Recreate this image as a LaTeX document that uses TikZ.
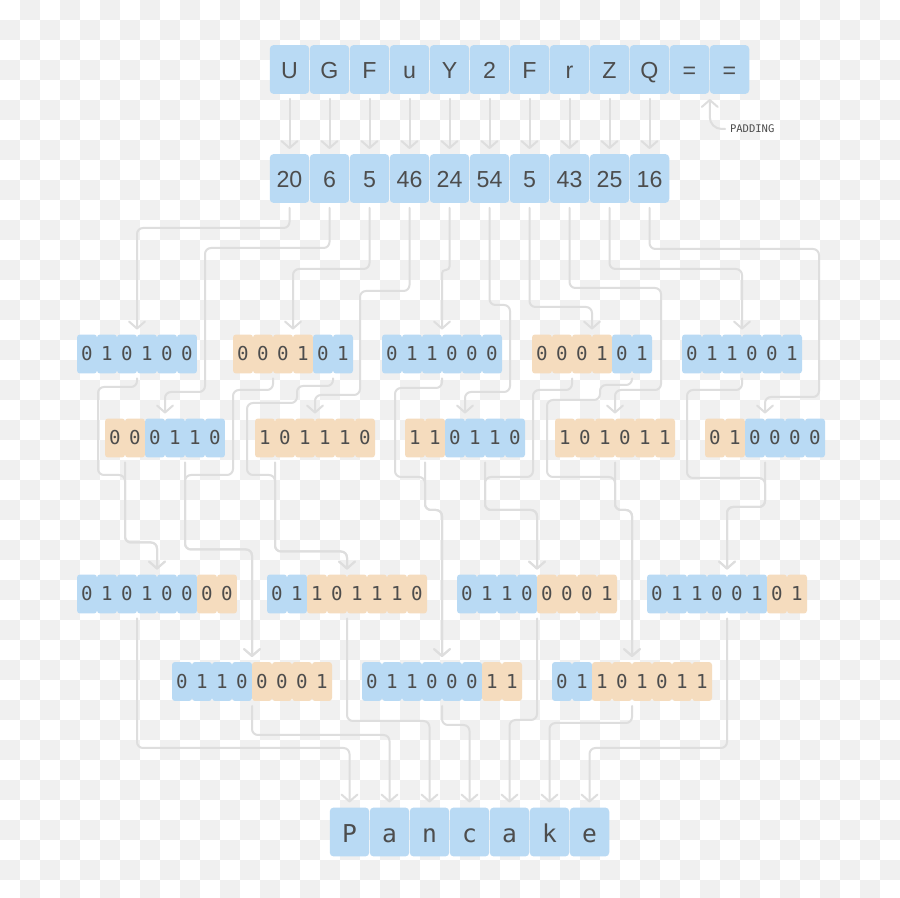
\documentclass[tikz,border=0pt]{standalone}
\usepackage{fontspec}
\usepackage{tikz}
\usetikzlibrary{arrows.meta}
\newfontfamily\labelfont{Liberation Sans}
\newfontfamily\bitfont{DejaVu Sans Mono}
\definecolor{cellblue}{HTML}{B9DAF4}
\definecolor{cellorange}{HTML}{F5DCBE}
\definecolor{linkgray}{HTML}{DEDEDE}
\definecolor{checkgray}{HTML}{F0F0F0}
\definecolor{textgray}{HTML}{4D4D4D}

\begin{document}
\begin{tikzpicture}[x=0.02cm, y=-0.02cm,
    cell/.style={rectangle, rounded corners=0.06cm, inner sep=0pt, outer xsep=0pt, outer ysep=0.1cm, text=textgray},
    bigcell/.style={cell, rounded corners=0.08cm, fill=cellblue, minimum width=0.79cm, minimum height=0.98cm, text height=0.35cm, text depth=0pt, font=\labelfont\fontsize{13.2}{15}\selectfont},
    bitcell/.style={cell, minimum width=0.4cm, minimum height=0.78cm, font=\bitfont\fontsize{10.9}{12}\selectfont},
    outcell/.style={bigcell, text height=0.44cm, font=\bitfont\fontsize{14}{16}\selectfont},
    link/.style={draw=linkgray, line width=0.04cm, line cap=round, rounded corners=0.12cm},
    arr/.style={link, -{Straight Barb[length=0.14cm, width=0.32cm, round]}}]
    \useasboundingbox (0,0) rectangle (900,898);
    % 背景棋盘格
    \fill[white] (0,0) rectangle (900,898);
    \foreach \row in {0,...,44} {
        \foreach \col in {0,...,44} {
            \ifodd\numexpr\row+\col\relax
                \fill[checkgray] (\col*20,\row*20) rectangle ++(20,20);
            \fi
        }
    }
    % Base64 字符
    \foreach \t [count=\i] in {U,G,F,u,Y,2,F,r,Z,Q,=,=} {
        \node[bigcell] (ch\i) at (249.5+40*\i, 69.5) {\t};
    }
    % 索引值
    \foreach \v [count=\i] in {20,6,5,46,24,54,5,43,25,16} {
        \node[bigcell] (val\i) at (249.5+40*\i, 178.5) {\v};
    }
    % 6 位分组,前 \k 位橙色
    \foreach \n/\lx/\cy/\k/\bits in {1/77/354/0/{0,1,0,1,0,0}, 2/105/438/2/{0,0,0,1,1,0},
        3/233/354/4/{0,0,0,1,0,1}, 4/255/438/6/{1,0,1,1,1,0}, 5/382/354/0/{0,1,1,0,0,0},
        6/405/438/2/{1,1,0,1,1,0}, 7/532/354/4/{0,0,0,1,0,1}, 8/555/438/6/{1,0,1,0,1,1},
        9/682/354/0/{0,1,1,0,0,1}, 10/705/438/2/{0,1,0,0,0,0}} {
        \foreach \bit [count=\j] in \bits {
            \ifnum\j>\k \def\fillc{cellblue}\else\def\fillc{cellorange}\fi
            \node[bitcell, fill=\fillc] (s\n-\j) at (\lx+20*\j-10, \cy) {\bit};
        }
    }
    % 8 位字节,前 \k 位蓝色
    \foreach \n/\lx/\cy/\k/\bits in {1/77/594/6/{0,1,0,1,0,0,0,0}, 2/172/681.5/4/{0,1,1,0,0,0,0,1},
        3/267/594/2/{0,1,1,0,1,1,1,0}, 4/362/681.5/6/{0,1,1,0,0,0,1,1}, 5/457/594/4/{0,1,1,0,0,0,0,1},
        6/552/681.5/2/{0,1,1,0,1,0,1,1}, 7/647/594/6/{0,1,1,0,0,1,0,1}} {
        \foreach \bit [count=\j] in \bits {
            \ifnum\j>\k \def\fillc{cellorange}\else\def\fillc{cellblue}\fi
            \node[bitcell, fill=\fillc] (y\n-\j) at (\lx+20*\j-10, \cy) {\bit};
        }
    }
    % 解码结果
    \foreach \t [count=\i] in {P,a,n,c,a,k,e} {
        \node[outcell] (out\i) at (309.5+40*\i, 832) {\t};
    }
    % 填充标注
    \node[font=\bitfont\fontsize{6}{7}\selectfont, text=textgray, anchor=west, inner sep=0pt, outer xsep=0.1cm] (pad) at (725,129) {PADDING};
    \draw[arr, rounded corners=0.24cm] (pad.west) -| (ch12.south west);
    % 字符 -> 索引
    \foreach \i in {1,...,10} {
        \draw[arr] (ch\i.south) -- (val\i.north);
    }
    % 索引 -> 6 位分组
    \draw[arr] (val1.south) -- ++(0,20) -| (s1-4.north west);
    \draw[arr] (val2.south) -- ++(0,40) -| (205,392) -| (s2-4.north west);
    \draw[arr] (val3.south) -- ++(0,61) -| (s3-4.north west);
    \draw[arr] (val4.south) -- ++(0,83) -| (360,395) -| (s4-4.north west);
    \draw[arr, rounded corners=0.07cm] (val5.south) -- ++(0,62) -| (s5-4.north west);
    \draw[arr] (val6.south) -- ++(0,97) -| (510,392) -| (s6-4.north west);
    \draw[arr] (val7.south) -- ++(0,99) -| (s7-4.north west);
    \draw[arr] (val8.south) -- ++(0,80) -| (661,390) -| (s8-4.north west);
    \draw[arr] (val9.south) -- ++(0,61) -| (s9-4.north west);
    \draw[arr] (val10.south) -- ++(0,41) -| (819,397) -| (s10-4.north west);
    % 6 位分组 -> 字节
    \draw[arr] (s1-4.south west) -- ++(0,8.5) -| (98,475) -| (125,542.5) -| (y1-5.north west);
    \draw[arr] (s2-2.south west) -- ++(0,80) -| (y1-5.north west);
    \draw[arr] (s2-5.south west) -- ++(0,87) -| (y2-5.north west);
    \draw[arr] (s3-3.south west) -- ++(0,11.5) -| (233,475) -| (185,549.5) -| (y2-5.north west);
    \draw[arr] (s3-6.south west) -- ++(0,7.5) -| (297,403) -| (247,475) -| (275,551.5) -| (y3-5.north west);
    \draw[arr] (s4-2.south west) -- ++(0,89) -| (y3-5.north west);
    \draw[arr] (s5-4.south west) -- ++(0,9.5) -| (395,477) -| (425,510) -| (y4-5.north west);
    \draw[arr] (s6-2.south west) -- ++(0,47.5) -| (y4-5.north west);
    \draw[arr] (s6-5.south west) -- ++(0,47.5) -| (y5-5.north west);
    \draw[arr] (s7-3.south west) -- ++(0,11.5) -| (533,477) -| (485,510) -| (y5-5.north west);
    \draw[arr] (s7-6.south west) -- ++(0,6.5) -| (600,400) -| (547,477) -| (615,510) -| (y6-5.north west);
    \draw[arr] (s8-4.south west) -- ++(0,47.5) -| (y6-5.north west);
    \draw[arr] (s9-4.south west) -- ++(0,11.5) -| (687,478) -| (765,507) -| (y7-5.north west);
    \draw[arr] (s10-4.south west) -- ++(0,44.5) -| (y7-5.north west);
    % 字节 -> 字符
    \draw[arr] (y1-4.south west) -- ++(0,129.5) -| (out1.north);
    \draw[arr] (y2-5.south west) -- ++(0,29) -| (out2.north);
    \draw[arr] (y3-5.south west) -- ++(0,102.5) -| (out3.north);
    \draw[arr] (y4-5.south west) -- ++(0,19) -| (out4.north);
    \draw[arr] (y5-5.south west) -- ++(0,101.5) -| (out5.north);
    \draw[arr] (y6-5.south west) -- ++(0,17) -| (out6.north);
    \draw[arr] (y7-5.south west) -- ++(0,129.5) -| (out7.north);
\end{tikzpicture}
\end{document}
